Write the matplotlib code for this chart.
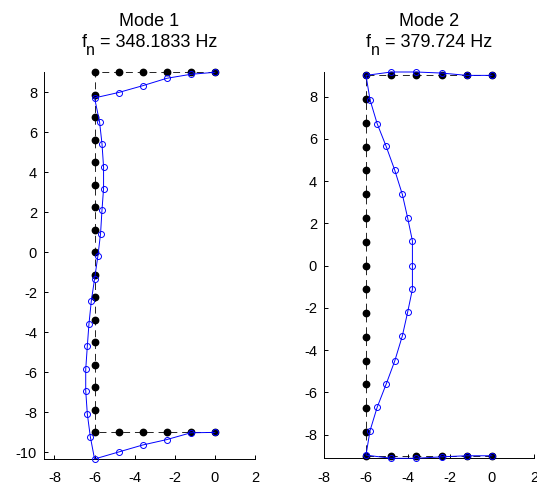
import matplotlib
matplotlib.use('Agg')
import matplotlib.pyplot as plt

plt.rcParams['font.family'] = ['Liberation Sans', 'DejaVu Sans']
plt.rcParams['axes.unicode_minus'] = False
plt.rcParams['lines.scale_dashes'] = False

# undeformed frame nodes (top row, web, bottom row)
frame_x = [0, -1.2, -2.4, -3.6, -4.8, -6,
	-6, -6, -6, -6, -6, -6, -6, -6, -6, -6, -6, -6, -6, -6, -6,
	-6, -4.8, -3.6, -2.4, -1.2, 0]
frame_y = [9, 9, 9, 9, 9, 9,
	7.875, 6.75, 5.625, 4.5, 3.375, 2.25, 1.125, 0, -1.125, -2.25, -3.375, -4.5, -5.625, -6.75, -7.875,
	-9, -9, -9, -9, -9, -9]

# mode 1 deformed shape
mode1_x = [0, -1.2, -2.4, -3.6, -4.8, -6.0,
	-5.75, -5.63, -5.55, -5.55, -5.63, -5.70, -5.83, -6.0, -6.16, -6.28, -6.36, -6.44, -6.44, -6.36, -6.21,
	-6.0, -4.8, -3.6, -2.4, -1.2, 0]
mode1_y = [9.0, 8.9, 8.7, 8.33, 7.99, 7.72,
	6.52, 5.44, 4.27, 3.19, 2.1, 0.94, -0.16, -1.34, -2.42, -3.59, -4.69, -5.85, -6.92, -8.08, -9.22,
	-10.33, -9.98, -9.63, -9.36, -9.02, -9.0]

# mode 2 deformed shape
mode2_x = [0, -1.2, -2.4, -3.6, -4.8, -6.0,
	-5.81, -5.47, -5.04, -4.64, -4.27, -4.02, -3.79, -3.79, -3.79, -4.02, -4.27, -4.63, -5.04, -5.47, -5.81,
	-6.0, -4.8, -3.6, -2.4, -1.2, 0]
mode2_y = [9.0, 9.0, 9.11, 9.16, 9.16, 9.0,
	7.85, 6.72, 5.64, 4.54, 3.37, 2.27, 1.17, -0.02, -1.12, -2.22, -3.33, -4.51, -5.61, -6.71, -7.82,
	-8.97, -9.12, -9.12, -9.05, -9.0, -9.0]

mode_names = ['Mode 1', 'Mode 2']
freqs = ['348.1833', '379.724']
x_ticks = [-8, -6, -4, -2, 0, 2]
y_ticks_1 = [-10, -8, -6, -4, -2, 0, 2, 4, 6, 8]
y_ticks_2 = [-8, -6, -4, -2, 0, 2, 4, 6, 8]

W, H = 537, 487
fig = plt.figure(figsize=(W/100, H/100), dpi=100)
renderer = fig.canvas.get_renderer()


def px_axes(x0, x1, ytop, ybot):
	return fig.add_axes([x0/W, (H-ybot)/H, (x1-x0)/W, (ybot-ytop)/H])


def freq_line(cx, base, freq):
	# f with a tex-style subscript n, centred on cx (pixels)
	parts = [
		fig.text(0, 0, 'f', fontsize=13),
		fig.text(0, 0, 'n', fontsize=11.5),
		fig.text(0, 0, ' = ' + freq + ' Hz', fontsize=13),
	]
	widths = [t.get_window_extent(renderer).width for t in parts]
	x = cx - sum(widths)/2
	drops = [0, 8, 0]
	for t, w, d in zip(parts, widths, drops):
		t.set_position((x/W, (H-base-d)/H))
		t.set_va('baseline')
		x += w


def draw_mode(ax, mx, my, name, freq, xlim, yticks, x0, x1):
	ax.plot(frame_x, frame_y, color='k', lw=0.6, dashes=(5, 3.5), marker='o',
		ms=4.6, mfc='k', mec='k', clip_on=False, zorder=2)
	ax.plot(mx, my, color='b', lw=0.7, marker='o', ms=4.3, mfc='none',
		mec='b', mew=0.7, clip_on=False, zorder=3)
	ax.set_xlim(xlim)
	ax.set_ylim(min(min(my), min(frame_y)), max(max(my), max(frame_y)))
	ax.set_xticks(x_ticks)
	ax.set_yticks(yticks)
	for side in ['top', 'right']:
		ax.spines[side].set_visible(False)
	for side in ['left', 'bottom']:
		ax.spines[side].set_linewidth(0.7)
	ax.tick_params(direction='in', length=3, width=0.7, labelsize=10.5)
	ax.tick_params(axis='x', pad=9)
	ax.tick_params(axis='y', pad=5)
	cx = (x0 + x1)/2
	fig.text(cx/W, (H-26)/H, name, ha='center', va='baseline', fontsize=13)
	freq_line(cx, 47, freq)


ax1 = px_axes(44, 255, 72.3, 459)
draw_mode(ax1, mode1_x, mode1_y, mode_names[0], freqs[0], (-8.52, 2), y_ticks_1, 44, 255)

ax2 = px_axes(324, 534, 72, 458.3)
draw_mode(ax2, mode2_x, mode2_y, mode_names[1], freqs[1], (-8, 2), y_ticks_2, 324, 534)

fig.savefig('out.png', dpi=100)
